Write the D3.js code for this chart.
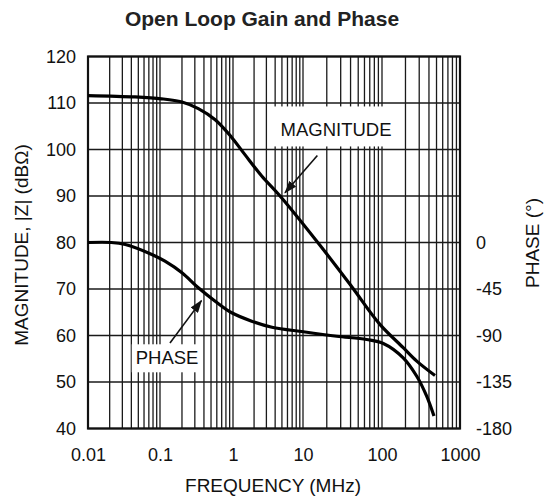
<!DOCTYPE html>
<html>
<head>
<meta charset="utf-8">
<script src="https://cdn.jsdelivr.net/npm/d3@7"></script>
<style>
body { margin: 0; background: #fff; }
svg { display: block; }
text { font-family: "Liberation Sans", Arial, Helvetica, sans-serif; fill: #111; }
</style>
</head>
<body>
<div class="vis"></div>
<script>

//********************//
//        DATA        //
//********************//

// magnitude curve, |Z| in dB-ohm against frequency in MHz
var magFreq = [0.01, 0.045, 0.105, 0.2, 0.335, 0.57, 0.96, 1.48, 2.57, 4.7, 16.4, 41, 94, 187, 279, 478];
var magValue = [111.6, 111.3, 110.9, 110.2, 108.8, 106.4, 102.6, 98.9, 94.3, 90.0, 79.4, 70.6, 62.4, 57.4, 54.5, 51.4];

// phase curve, degrees against frequency in MHz
var phaseFreq = [0.01, 0.021, 0.033, 0.077, 0.117, 0.2, 0.335, 0.57, 0.96, 1.85, 3.6, 10.1, 26.7, 64, 104, 187, 279, 374, 464];
var phaseValue = [0, 0, -2, -11.6, -18.1, -29.3, -43.8, -56.8, -68, -76.1, -82, -86.4, -90.7, -93.9, -97.7, -111.6, -129.4, -148.7, -168];

// tick labels
var freqTicks = [0.01, 0.1, 1, 10, 100, 1000];
var freqLabels = ["0.01", "0.1", "1", "10", "100", "1000"];
var magTicks = [40, 50, 60, 70, 80, 90, 100, 110, 120];
var phaseTicks = [0, -45, -90, -135, -180];

// callouts: label, where the text sits and where the arrow points (freq, dB)
var calloutNames = ["MAGNITUDE", "PHASE"];
var calloutText = [[26.2, 104.2], [0.125, 55.2]];
var calloutTail = [[15.2, 98.7], [0.137, 58.4]];
var calloutTip = [[5.53, 90.7], [0.37, 67.5]];


//********************//
//   SVG / LAYOUT     //
//********************//

var width = 550, height = 500;

var svg = d3.select(".vis").append("svg")
	.attr("width", width)
	.attr("height", height);

// the printed grid is not evenly spaced per decade, so pin each decade
var decadePx = [88, 160, 233, 303, 382, 460];
var plot = { "left": 88, "right": 460, "top": 56.5, "bottom": 428.5 };

var x = d3.scaleLog()
	.domain(freqTicks)
	.range(decadePx);

var y = d3.scaleLinear()
	.domain([40, 120])
	.range([plot.bottom, plot.top]);

var yPhase = d3.scaleLinear()
	.domain([-180, 180])
	.range([plot.bottom, plot.top]);

var gridColour = "#1a1a1a";

// vertical grid: 1..9 in every decade
var gridFreqs = [];
freqTicks.slice(0, -1).forEach(function(d) {
	for (var k = 1; k < 10; k++) gridFreqs.push(d * k);
});
gridFreqs.push(1000);

var grid = svg.append("g");

grid.selectAll(".vline")
	.data(gridFreqs)
	.enter().append("line")
	.attr("class", "vline")
	.attr("x1", function(d) { return x(d); })
	.attr("x2", function(d) { return x(d); })
	.attr("y1", plot.top)
	.attr("y2", plot.bottom)
	.style("stroke", gridColour)
	.style("stroke-width", 1.3);

grid.selectAll(".hline")
	.data(magTicks)
	.enter().append("line")
	.attr("class", "hline")
	.attr("x1", plot.left)
	.attr("x2", plot.right)
	.attr("y1", function(d) { return y(d); })
	.attr("y2", function(d) { return y(d); })
	.style("stroke", gridColour)
	.style("stroke-width", 1.3);


//********************//
//       AXES         //
//********************//

var fontSize = 18;

var xAxis = svg.append("g")
	.attr("transform", "translate(0," + plot.bottom + ")")
	.call(d3.axisBottom(x)
		.tickValues(freqTicks)
		.tickFormat(function(d, i) { return freqLabels[i]; })
		.tickSize(0)
		.tickPadding(20));

var yAxis = svg.append("g")
	.attr("transform", "translate(" + plot.left + ",0)")
	.call(d3.axisLeft(y)
		.tickValues(magTicks)
		.tickFormat(function(d) { return String(d); })
		.tickSize(0)
		.tickPadding(12));

// plain hyphen for the negative phases, as printed
var phaseAxis = svg.append("g")
	.attr("transform", "translate(" + plot.right + ",0)")
	.call(d3.axisRight(yPhase)
		.tickValues(phaseTicks)
		.tickFormat(function(d) { return String(d); })
		.tickSize(0)
		.tickPadding(16));

[xAxis, yAxis, phaseAxis].forEach(function(a) {
	a.select(".domain").remove();
	a.selectAll("text")
		.style("font-size", fontSize + "px")
		.style("font-family", "\"Liberation Sans\", Arial, sans-serif")
		.attr("fill", "#111");
});

// plot frame
svg.append("rect")
	.attr("x", plot.left)
	.attr("y", plot.top)
	.attr("width", plot.right - plot.left)
	.attr("height", plot.bottom - plot.top)
	.style("fill", "none")
	.style("stroke", "#111")
	.style("stroke-width", 2.2);

// titles
svg.append("text")
	.attr("x", 262)
	.attr("y", 26)
	.attr("text-anchor", "middle")
	.style("font-size", "21px")
	.style("font-weight", "bold")
	.style("fill", "#222")
	.text("Open Loop Gain and Phase");

svg.append("text")
	.attr("x", 273)
	.attr("y", 492)
	.attr("text-anchor", "middle")
	.style("font-size", "19px")
	.text("FREQUENCY (MHz)");

svg.append("text")
	.attr("transform", "translate(28,245) rotate(-90)")
	.attr("text-anchor", "middle")
	.style("font-size", "19px")
	.text("MAGNITUDE, |Z| (dB\u03A9)");

svg.append("text")
	.attr("transform", "translate(539,243) rotate(-90)")
	.attr("text-anchor", "middle")
	.style("font-size", "19px")
	.text("PHASE (\u00B0)");


//********************//
//   CALLOUT LABELS   //
//********************//

// white boxes knock the grid out behind the labels
var calloutPad = [{ "l": 7, "r": 7, "t": 13, "b": 6 }, { "l": 4, "r": 2, "t": 3, "b": 4 }];

var callouts = svg.append("g");

calloutNames.forEach(function(name, i) {
	var cx = x(calloutText[i][0]), cy = y(calloutText[i][1]);
	var box = callouts.append("rect").style("fill", "#fff");
	var t = callouts.append("text")
		.attr("x", cx)
		.attr("y", cy)
		.attr("dy", "0.35em")
		.attr("text-anchor", "middle")
		.style("font-size", "18.5px")
		.text(name);
	var bb = t.node().getBBox();
	var p = calloutPad[i];
	box.attr("x", bb.x - p.l)
		.attr("y", bb.y - p.t)
		.attr("width", bb.width + p.l + p.r)
		.attr("height", bb.height + p.t + p.b);
});

svg.append("defs").append("marker")
	.attr("id", "head")
	.attr("markerUnits", "userSpaceOnUse")
	.attr("markerWidth", 13)
	.attr("markerHeight", 9)
	.attr("refX", 12)
	.attr("refY", 4.5)
	.attr("orient", "auto")
	.append("path")
	.attr("d", "M0,0 L13,4.5 L0,9 Z")
	.style("fill", "#111");


//********************//
//      CURVES        //
//********************//

var magLine = d3.line()
	.x(function(d, i) { return x(magFreq[i]); })
	.y(function(d) { return y(d); })
	.curve(d3.curveCatmullRom.alpha(0.5));

var phaseLine = d3.line()
	.x(function(d, i) { return x(phaseFreq[i]); })
	.y(function(d) { return yPhase(d); })
	.curve(d3.curveCatmullRom.alpha(0.5));

svg.append("path")
	.datum(magValue)
	.attr("d", magLine)
	.style("fill", "none")
	.style("stroke", "#000")
	.style("stroke-width", 3.2);

svg.append("path")
	.datum(phaseValue)
	.attr("d", phaseLine)
	.style("fill", "none")
	.style("stroke", "#000")
	.style("stroke-width", 3.2);

// arrows from labels to curves
callouts.selectAll(".arrow")
	.data(calloutNames)
	.enter().append("line")
	.attr("class", "arrow")
	.attr("x1", function(d, i) { return x(calloutTail[i][0]); })
	.attr("y1", function(d, i) { return y(calloutTail[i][1]); })
	.attr("x2", function(d, i) { return x(calloutTip[i][0]); })
	.attr("y2", function(d, i) { return y(calloutTip[i][1]); })
	.attr("marker-end", "url(#head)")
	.style("stroke", "#111")
	.style("stroke-width", 1.6);

</script>
</body>
</html>
